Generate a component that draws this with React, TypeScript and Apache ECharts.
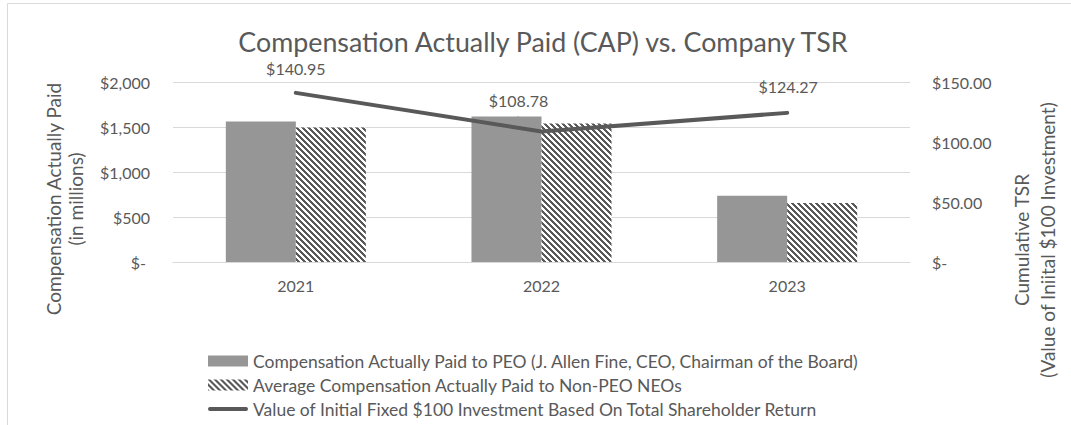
import React, { useEffect, useRef } from 'react';
import * as echarts from 'echarts';

const years = ['2021', '2022', '2023'];
const peoCap = [1561, 1617, 737];
const neoCap = [1494, 1539, 656];
const tsr = [140.95, 108.78, 124.27];

const peoName = 'Compensation Actually Paid to PEO (J. Allen Fine, CEO, Chairman of the Board)';
const neoName = 'Average Compensation Actually Paid to Non-PEO NEOs';
const tsrName = 'Value of Initial Fixed $100 Investment Based On Total Shareholder Return';
const titleText = 'Compensation Actually Paid (CAP) vs. Company TSR';
const leftTitle = 'Compensation Actually Paid\n(in millions)';
const rightTitle = 'Cumulative TSR\n(Value of Iniital $100 Investment)';

const FONT = 'Lato';
const TXT = '#595959';

function makePattern() {
  const n = 6;
  const c = document.createElement('canvas');
  c.width = n;
  c.height = n;
  const ctx = c.getContext('2d')!;
  ctx.fillStyle = '#ffffff';
  ctx.fillRect(0, 0, n, n);
  ctx.fillStyle = '#595959';
  for (let y = 0; y < n; y++) {
    for (let x = 0; x < n; x++) {
      if ((((x - y) % n) + n) % n < 3) ctx.fillRect(x, y, 1, 1);
    }
  }
  return { image: c, repeat: 'repeat', imageWidth: n, imageHeight: n } as any;
}

export default function App() {
  const ref = useRef<HTMLDivElement>(null);
  useEffect(() => {
    if (!ref.current) return;
    const chart = echarts.init(ref.current, undefined, { renderer: 'svg' });
    const pattern = makePattern();
    const labelOffsets = [
      [0, -24],
      [-23, -31],
      [1, -26],
    ];
    const option: any = {
      animation: false,
      textStyle: { fontFamily: FONT },
      title: {
        text: titleText,
        left: 538,
        top: 23,
        textAlign: 'center',
        textStyle: { fontFamily: FONT, fontSize: 26.8, fontWeight: 'normal', color: TXT },
      },
      grid: { left: 173, right: 161, top: 82, bottom: 163, containLabel: false },
      legend: {
        orient: 'vertical',
        left: 208,
        top: 352,
        padding: 0,
        itemWidth: 40,
        itemHeight: 11,
        itemGap: 6,
        selectedMode: false,
        textStyle: { color: TXT, fontSize: 17.5, fontFamily: FONT, lineHeight: 17.5 },
        data: [
          { name: peoName, icon: 'rect' },
          { name: neoName, icon: 'rect' },
          { name: tsrName, icon: 'path://M2,0 L38,0 A2,2 0 0 1 38,4 L2,4 A2,2 0 0 1 2,0 Z' },
        ],
      },
      xAxis: {
        type: 'category',
        data: years,
        axisLine: { lineStyle: { color: '#d9d9d9', width: 1 } },
        axisTick: { show: false },
        axisLabel: { color: TXT, fontSize: 16, fontFamily: FONT, margin: 15 },
      },
      yAxis: [
        {
          type: 'value',
          min: 0,
          max: 2000,
          interval: 500,
          axisLine: { show: false },
          axisTick: { show: false },
          splitLine: { lineStyle: { color: '#d9d9d9', width: 1 } },
          axisLabel: {
            color: TXT,
            fontSize: 16,
            fontFamily: FONT,
            margin: 23,
            formatter: (v: number) => (v === 0 ? '$-\u2009\u2009' : '$' + v.toLocaleString('en-US')),
          },
        },
        {
          type: 'value',
          position: 'right',
          min: 0,
          max: 150,
          interval: 50,
          axisLine: { show: false },
          axisTick: { show: false },
          splitLine: { show: false },
          axisLabel: {
            color: TXT,
            fontSize: 16,
            fontFamily: FONT,
            margin: 22,
            formatter: (v: number) => (v === 0 ? '$-' : '$' + v.toFixed(2)),
          },
        },
      ],
      series: [
        {
          name: peoName,
          type: 'bar',
          data: peoCap,
          barGap: '0%',
          barCategoryGap: '43%',
          itemStyle: { color: '#969696' },
        },
        {
          name: neoName,
          type: 'bar',
          data: neoCap,
          barGap: '0%',
          barCategoryGap: '43%',
          itemStyle: { color: pattern },
        },
        {
          name: 'leader',
          type: 'custom',
          yAxisIndex: 1,
          silent: true,
          z: 1,
          data: [[1, tsr[1]]],
          renderItem: (params: any, api: any) => {
            const p = api.coord([api.value(0), api.value(1)]);
            return {
              type: 'line',
              shape: { x1: p[0] - 24, y1: p[1] - 15, x2: p[0], y2: p[1] },
              style: { stroke: '#a6a6a6', lineWidth: 1 },
            };
          },
        },
        {
          name: tsrName,
          type: 'line',
          yAxisIndex: 1,
          z: 3,
          data: tsr,
          symbol: 'circle',
          symbolSize: 2,
          itemStyle: { color: '#595959' },
          lineStyle: { color: '#595959', width: 4, cap: 'round', join: 'round' },
          label: {
            show: true,
            position: 'inside',
            color: TXT,
            fontSize: 16,
            fontFamily: FONT,
            formatter: (p: any) => '$' + Number(p.value).toFixed(2),
          },
          labelLayout: (params: any) => {
            const o = labelOffsets[params.dataIndex];
            return { dx: o[0], dy: o[1] };
          },
        },
      ],
      graphic: [
        {
          type: 'rect',
          shape: { x: 7.5, y: 3.5, width: 2000, height: 1000 },
          style: { fill: 'none', stroke: '#d9d9d9', lineWidth: 1 },
          silent: true,
        },
        {
          type: 'text',
          x: 64,
          y: 199,
          rotation: Math.PI / 2,
          style: {
            text: leftTitle,
            fontSize: 19,
            fontFamily: FONT,
            fill: TXT,
            align: 'center',
            verticalAlign: 'middle',
            lineHeight: 22,
          },
        },
        {
          type: 'text',
          x: 1034,
          y: 240,
          rotation: Math.PI / 2,
          style: {
            text: rightTitle,
            fontSize: 19,
            fontFamily: FONT,
            fill: TXT,
            align: 'center',
            verticalAlign: 'middle',
            lineHeight: 26,
          },
        },
      ],
    };
    chart.setOption(option);
    return () => chart.dispose();
  }, []);
  return (
    <div
      ref={ref}
      style={{ position: 'fixed', left: 0, top: 0, width: 1071, height: 425, background: '#fff' }}
    />
  );
}
